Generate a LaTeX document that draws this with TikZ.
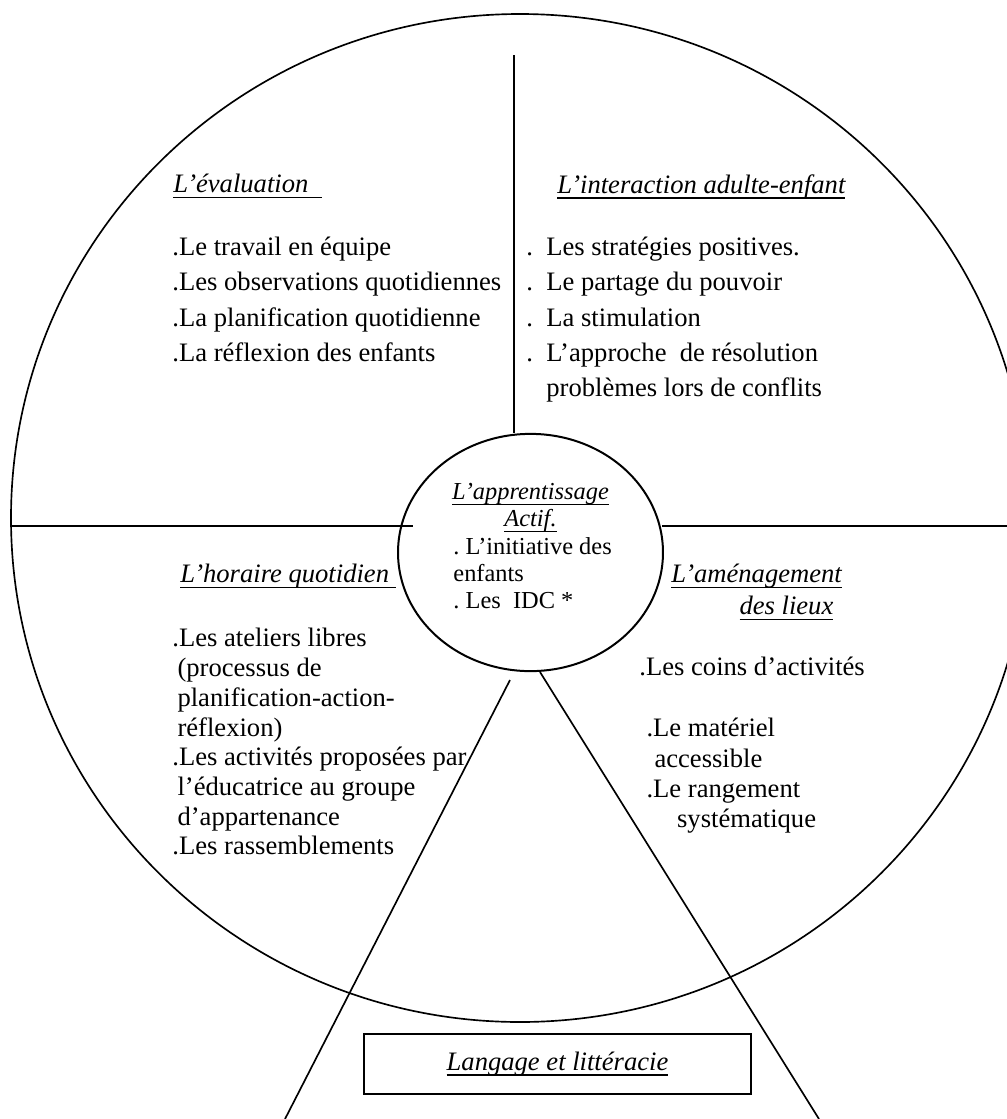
\documentclass[tikz,border=0pt]{standalone}
\usepackage{fontspec}
\setmainfont{Liberation Serif}
\usetikzlibrary{positioning,shapes.geometric}
% underline at a fixed depth
\newsavebox{\soulbox}
\newcommand{\souligne}[1]{\sbox{\soulbox}{#1}\rlap{\rule[-2.4pt]{\wd\soulbox}{0.6pt}}\usebox{\soulbox}}
\tikzset{
    %Define style for quadrant titles
    titre/.style={
           anchor=north west,
           inner sep=0pt,
           align=left,
           font=\fontsize{12}{14.4}\selectfont\itshape},
    %Define style for the lists
    liste/.style={
           anchor=north west,
           inner sep=0pt,
           align=left,
           font=\fontsize{12}{15.8}\selectfont},
    % Define line style
    trait/.style={
           line width=0.75pt},
    boite/.style={
           rectangle,
           draw=black, line width=0.9pt,
           minimum width=174.5pt,
           minimum height=27pt,
           font=\fontsize{12}{13.5}\selectfont\itshape}
}
\begin{document}
\begin{tikzpicture}[x=0.451pt,y=-0.451pt]
\useasboundingbox (0,0) rectangle (1007,1119);
\clip (0,0) rectangle (1007,1119);
% big circle
\draw[trait] (520,518) ellipse [x radius=509, y radius=504];
% centre
\node[ellipse, draw, line width=0.9pt, inner sep=0pt,
  minimum width=119.5pt, minimum height=107pt](actif) at (530.5,552.5){};
\coordinate (haut) at (514,55);
\coordinate (gauche) at (11,526);
\coordinate (gfin) at (413,526);
\coordinate (dfin) at (662,526);
\coordinate (droite) at (1030,526);
\coordinate (diagG) at (510,680);
\coordinate (basG) at (285,1119);
\coordinate (diagD) at (540,672);
\coordinate (basD) at (819,1119);
\draw[trait] (haut) -- (haut |- actif.north);
\draw[trait] (gauche) -- (gfin);
\draw[trait] (dfin) -- (droite);
\draw[trait] (diagG) -- (basG);
\draw[trait] (diagD) -- (basD);
% texts
\node[anchor=north, inner sep=0pt, align=center,
  font=\fontsize{11}{12.2}\selectfont\itshape](apptitre) at (530.5,483)
  {\souligne{L’apprentissage}\\\souligne{Actif.}};
\node[liste, font=\fontsize{11}{12.2}\selectfont](appliste) at (453,537)
  {.\ L’initiative des\\enfants\\.\ Les\ \ IDC *};
\node[titre](evaltitre) at (173,174){\souligne{L’évaluation\ \ }};
\node[liste](evalliste) at (172,237){.Le travail en équipe\\
  .Les observations quotidiennes\\
  .La planification quotidienne\\
  .La réflexion des enfants};
\node[titre](intertitre) at (557,174){\souligne{L’interaction adulte-enfant}};
\node[liste](interliste) at (526,237){.\ \ Les stratégies positives.\\
  .\ \ Le partage du pouvoir\\
  .\ \ La stimulation\\
  .\ \ L’approche\ \ de résolution\\
  \hspace*{9pt}problèmes lors de conflits};
\node[titre](horairetitre) at (180,564){\souligne{L’horaire quotidien\ }};
\node[liste, font=\fontsize{12}{13.4}\selectfont](horaireliste) at (172,628)
  {.Les ateliers libres\\
  \hspace*{2.3pt}(processus de\\
  \hspace*{2.3pt}planification-action-\\
  \hspace*{2.3pt}réflexion)\\
  .Les activités proposées par\\
  \hspace*{2.3pt}l’éducatrice au groupe\\
  \hspace*{2.3pt}d’appartenance\\
  .Les rassemblements};
\node[titre](lieuxtitre) at (671,564){\souligne{L’aménagement}\\
  \hspace*{30.7pt}\souligne{des lieux}};
\node[liste, font=\fontsize{12}{13.7}\selectfont](lieuxliste) at (639,657)
  {.Les coins d’activités\\[13.7pt]
  \hspace*{3.2pt}.Le matériel\\
  \hspace*{6.8pt}accessible\\
  \hspace*{3.2pt}.Le rangement\\
  \hspace*{17pt}systématique};
\node[boite](langage) at (557.5,1064){\souligne{Langage et littéracie}};
\end{tikzpicture}
\end{document}
